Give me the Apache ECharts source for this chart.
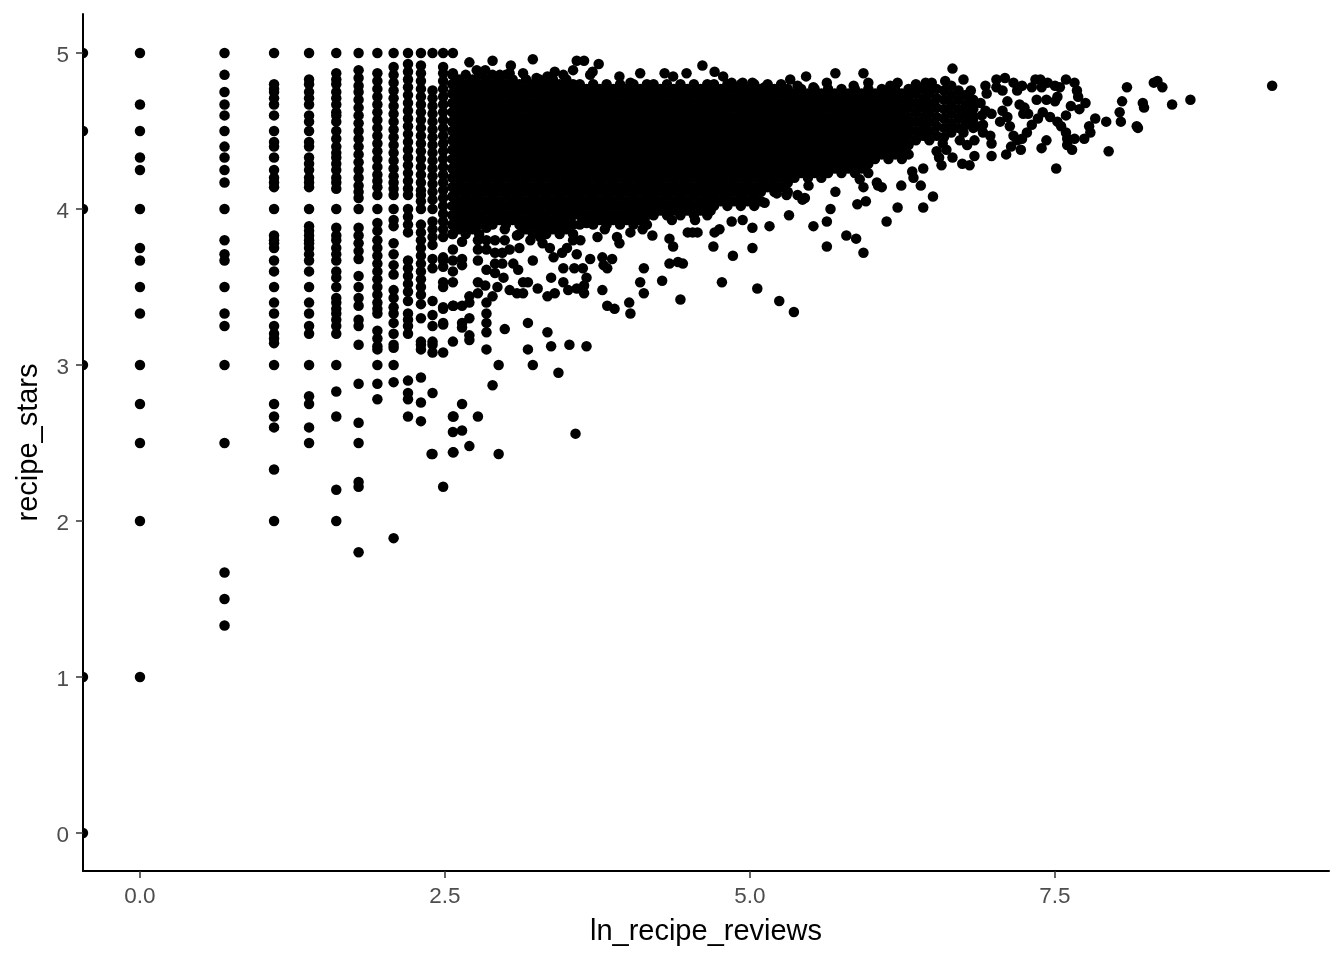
<!DOCTYPE html>
<html><head><meta charset="utf-8">
<script src="https://cdn.jsdelivr.net/npm/echarts@6/dist/echarts.min.js"></script>
<style>html,body{margin:0;padding:0;background:#fff}#c{width:1344px;height:960px}</style>
</head><body><div id="c"></div>
<script>
const xTickValues = [0, 2.5, 5, 7.5];
const yTickValues = [0, 1, 2, 3, 4, 5];
const xAxisTitle = 'ln_recipe_reviews';
const yAxisTitle = 'recipe_stars';

// points on the left edge of the panel, cut in half by it
const edgeX = -0.467;
const edgeStars = [5,4.5,4,3,1,0];

// discrete review counts: ln(x) with the star ratings read in that column
const columnX = [0, 0.693, 1.099, 1.386, 1.609, 1.792, 1.946, 2.079, 2.197, 2.303, 2.398, 2.485, 2.565];
const columnStars = [
 [5,4.67,4.5,4.33,4.25,4,3.75,3.67,3.5,3.33,3,2.75,2.5,2,1],
 [5,4.86,4.75,4.67,4.6,4.5,4.4,4.33,4.25,4.17,4,3.8,3.71,3.67,3.5,3.33,3.25,3,2.5,1.67,1.5,1.33],
 [5,4.8,4.77,4.75,4.71,4.67,4.6,4.5,4.43,4.4,4.33,4.25,4.2,4.17,4.14,4,3.83,3.8,3.78,3.75,3.67,3.6,3.5,3.4,3.33,3.25,3.2,3.17,3.14,3,2.75,2.67,2.6,2.33,2],
 [5,4.83,4.8,4.75,4.71,4.67,4.6,4.56,4.5,4.43,4.4,4.33,4.29,4.25,4.2,4.17,4.14,4,3.89,3.86,3.83,3.8,3.78,3.75,3.71,3.67,3.6,3.5,3.4,3.33,3.25,3.2,3,2.8,2.75,2.6,2.5],
 [5,4.87,4.83,4.8,4.75,4.71,4.67,4.62,4.6,4.56,4.5,4.45,4.4,4.36,4.33,4.29,4.25,4.2,4.17,4.13,4,3.88,3.83,3.8,3.75,3.71,3.67,3.6,3.56,3.5,3.43,3.4,3.36,3.33,3.29,3.25,3.2,3,2.83,2.67,2.2,2],
 [5,4.89,4.84,4.79,4.75,4.7,4.65,4.6,4.55,4.5,4.45,4.4,4.35,4.3,4.25,4.2,4.15,4.11,4.07,4,3.88,3.83,3.78,3.73,3.68,3.57,3.5,3.43,3.38,3.29,3.25,3.13,2.88,2.63,2.5,2.25,2.22,1.8],
 [5,4.87,4.82,4.77,4.72,4.67,4.62,4.57,4.52,4.47,4.42,4.37,4.32,4.27,4.22,4.18,4.14,4.09,4,3.91,3.86,3.8,3.75,3.7,3.65,3.6,3.55,3.5,3.45,3.4,3.36,3.33,3.22,3.17,3.12,3.1,3,2.88,2.78],
 [5,4.91,4.86,4.81,4.76,4.71,4.66,4.61,4.56,4.51,4.46,4.41,4.36,4.31,4.26,4.21,4.17,4.13,4.09,4,3.93,3.89,3.78,3.71,3.64,3.58,3.48,3.43,3.37,3.33,3.27,3.2,3.13,3.11,3,2.89,1.89],
 [5,4.93,4.88,4.83,4.78,4.73,4.68,4.63,4.58,4.53,4.48,4.43,4.38,4.33,4.28,4.23,4.18,4.13,4.09,4,3.95,3.9,3.85,3.67,3.62,3.57,3.52,3.47,3.41,3.33,3.29,3.25,3.2,2.9,2.82,2.78,2.67],
 [5,4.92,4.87,4.82,4.77,4.72,4.67,4.62,4.57,4.52,4.47,4.42,4.37,4.32,4.27,4.22,4.17,4.12,4.09,4.05,4,3.9,3.85,3.8,3.75,3.7,3.65,3.6,3.55,3.5,3.45,3.39,3.3,3.15,3.13,3.1,2.92,2.76,2.64],
 [5,4.76,4.71,4.66,4.61,4.56,4.51,4.46,4.41,4.36,4.31,4.26,4.21,4.16,4.11,4.06,4,3.92,3.87,3.82,3.77,3.68,3.62,3.41,3.32,3.25,3.15,3.13,3.08,2.82,2.43],
 [5,4.91,4.87,4.82,4.77,4.72,4.67,4.62,4.57,4.52,4.47,4.42,4.37,4.32,4.27,4.22,4.17,4.12,4.07,4.02,3.97,3.92,3.87,3.82,3.69,3.67,3.63,3.53,3.5,3.37,3.36,3.27,3.26,3.08,2.22],
 [5,4.87,4.8,4.74,4.68,4.62,4.56,4.5,4.44,4.38,4.32,4.26,4.2,4.14,4.08,4.02,3.96,3.9,3.84,3.74,3.67,3.6,3.53,3.38,3.15,2.67,2.57,2.44]
];

// the solid mass: groups of review values and the ratings read as filled at them
const massX = [
 [2.56,2.67,2.78],[2.615,2.725],[2.89,3.0],[2.835,2.945,3.055],
 [3.11,3.22,3.33,3.44,3.55],[3.165,3.275,3.385,3.495],
 [3.605,3.715,3.825,3.935,4.045,4.155],[3.66,3.77,3.88,3.99,4.1],
 [4.21,4.32,4.43,4.54,4.65],[4.265,4.375,4.485,4.595],
 [4.705,4.815,4.925,5.035],[4.76,4.87,4.98,5.09],
 [5.145,5.255],[5.2,5.31],[5.365,5.475,5.585],[5.42,5.53,5.64],
 [5.695,5.805,5.915],[5.75,5.86,5.97],[6.025,6.135,6.245],[6.08,6.19,6.3],
 [6.36,6.47],[6.42,6.53],[3.578,4.183,4.678],
 [6.59],[6.65],[6.71],[6.77],[6.83]
];
const massStars = [
 [4.86,4.8,4.74,4.68,4.62,4.56,4.5,4.44,4.38,4.32,4.26,4.2,4.14,4.08,4.02,3.96,3.9,3.84],
 [4.83,4.77,4.71,4.65,4.59,4.53,4.47,4.41,4.35,4.29,4.23,4.17,4.11,4.05,3.99,3.93,3.87],
 [4.86,4.8,4.74,4.68,4.62,4.56,4.5,4.44,4.38,4.32,4.26,4.2,4.14,4.08,4.02,3.96,3.9],
 [4.83,4.77,4.71,4.65,4.59,4.53,4.47,4.41,4.35,4.29,4.23,4.17,4.11,4.05,3.99,3.93],
 [4.8,4.74,4.68,4.62,4.56,4.5,4.44,4.38,4.32,4.26,4.2,4.14,4.08,4.02,3.96,3.9,3.84],
 [4.83,4.77,4.71,4.65,4.59,4.53,4.47,4.41,4.35,4.29,4.23,4.17,4.11,4.05,3.99,3.93,3.87],
 [4.8,4.74,4.68,4.62,4.56,4.5,4.44,4.38,4.32,4.26,4.2,4.14,4.08,4.02,3.96,3.9],
 [4.77,4.71,4.65,4.59,4.53,4.47,4.41,4.35,4.29,4.23,4.17,4.11,4.05,3.99,3.93],
 [4.8,4.74,4.68,4.62,4.56,4.5,4.44,4.38,4.32,4.26,4.2,4.14,4.08,4.02,3.96],
 [4.77,4.71,4.65,4.59,4.53,4.47,4.41,4.35,4.29,4.23,4.17,4.11,4.05,3.99],
 [4.8,4.74,4.68,4.62,4.56,4.5,4.44,4.38,4.32,4.26,4.2,4.14,4.08,4.02],
 [4.77,4.71,4.65,4.59,4.53,4.47,4.41,4.35,4.29,4.23,4.17,4.11,4.05],
 [4.8,4.74,4.68,4.62,4.56,4.5,4.44,4.38,4.32,4.26,4.2,4.14],
 [4.77,4.71,4.65,4.59,4.53,4.47,4.41,4.35,4.29,4.23,4.17,4.11],
 [4.74,4.68,4.62,4.56,4.5,4.44,4.38,4.32,4.26,4.2],
 [4.77,4.71,4.65,4.59,4.53,4.47,4.41,4.35,4.29,4.23],
 [4.74,4.68,4.62,4.56,4.5,4.44,4.38,4.32,4.26],
 [4.77,4.71,4.65,4.59,4.53,4.47,4.41,4.35,4.29,4.23],
 [4.74,4.68,4.62,4.56,4.5,4.44,4.38,4.32],
 [4.77,4.71,4.65,4.59,4.53,4.47,4.41,4.35],
 [4.8,4.74,4.68,4.62,4.56,4.5,4.44],
 [4.77,4.71,4.65,4.59,4.53,4.47],
 [4.77,4.71,4.65,4.59,4.53,4.47,4.41,4.35,4.29,4.23,4.17,4.11,4.05,3.99],
 [4.76,4.7,4.64,4.58,4.52,4.46],
 [4.79,4.73,4.67,4.61,4.55,4.49],
 [4.76,4.7,4.64,4.58,4.52],
 [4.73,4.67,4.61,4.54],
 [4.7,4.64,4.58,4.52]
];

// individually read points around the mass
const looseX = [9.28,8.61,8.46,8.34,8.31,8.38,8.09,8.05,8.22,8.23,8.03,8.04,7.92,7.83,8.17,8.18,7.94,7.51,7.75,7.70,7.63,7.59,7.59,7.66,7.68,7.69,7.34,7.31,7.38,7.44,7.50,7.54,7.52,7.50,7.43,7.35,7.39,7.23,7.19,7.16,7.09,7.02,7.02,7.07,6.93,7.11,7.21,7.25,7.24,7.28,7.40,7.36,7.31,7.46,7.52,7.55,7.59,7.60,7.66,7.74,7.79,7.78,7.60,7.64,7.43,7.39,7.22,7.14,7.10,6.98,6.84,6.80,6.74,6.66,6.57,6.55,6.53,6.61,6.58,6.98,6.97,6.91,7.13,7.27,7.23,7.19,7.16,7.05,7.11,7.07,6.98,6.81,6.75,6.66,6.60,6.49,6.44,6.93,6.90,6.83,6.89,6.82,6.78,6.75,6.72,6.78,6.84,6.91,6.86,6.94,
 6.42,6.33,6.34,6.40,6.24,6.50,6.42,6.21,6.12,6.04,6.08,6.05,5.95,5.88,5.93,5.90,5.70,5.66,5.63,5.52,5.79,5.87,5.63,5.93,5.43,5.48,
 5.36,5.24,5.06,4.77,4.43,5.02,4.86,4.70,4.45,4.41,4.34,4.37,4.34,4.28,4.13,4.10,4.13,4.01,4.02,3.89,3.83,3.79,3.87,3.79,3.80,3.83,3.69,3.66,3.64,3.64,3.58,3.51,3.47,3.63,3.56,3.47,3.37,3.40,3.34,3.26,3.14,3.18,3.14,3.09,3.03,2.93,2.89,2.83,2.77,2.77,2.70,2.70,2.64,2.57,2.84,2.84,2.84,2.84,2.70,2.64,2.64,2.70,2.70,2.84,2.99,3.18,3.34,3.18,3.37,3.52,3.66,
 2.94,3.22,3.43,2.89,2.64,2.57,2.77,2.64,2.70,2.57,2.39,2.94,3.57,
 3.22,2.89,2.70,3.04,3.58,3.64,3.76,4.61,4.48,4.30,4.37,4.10,3.93,4.02,5.46,5.33,5.70,5.63,3.40,3.14,2.83,2.76,2.95,3.03,3.25,3.34,3.47,3.55,3.71,3.69,4.71,4.78,4.85,4.94,5.02,5.12,5.16,5.25,5.39,5.52,
 2.64,2.64,2.64,2.77,2.77,2.77,2.84,2.84,2.84,2.84,2.91,2.91,2.91,2.91,2.99,2.99,2.97,2.97,2.98,3.09,3.03,3.11,3.20,3.28,3.30,3.06,3.10,3.22,3.36,3.39,3.46,3.50,3.58,3.55,3.61,3.75,3.66,3.81,3.91,3.93,4.02,4.12,4.20,4.36,4.49,4.53,4.57,4.55,4.71,4.75,4.85,4.94,5.02,5.16,5.32,5.12,5.22,5.30,5.39,5.45,
 5.93,5.97,5.85,6.15,6.21,6.34];
const looseStars = [4.79,4.70,4.67,4.82,4.81,4.78,4.78,4.69,4.68,4.65,4.62,4.56,4.56,4.58,4.53,4.52,4.37,4.26,4.68,4.64,4.66,4.60,4.83,4.81,4.76,4.72,4.83,4.78,4.83,4.81,4.79,4.78,4.72,4.69,4.70,4.70,4.78,4.79,4.76,4.81,4.84,4.83,4.78,4.76,4.79,4.69,4.67,4.65,4.61,4.61,4.62,4.58,4.54,4.59,4.56,4.53,4.49,4.45,4.45,4.45,4.49,4.53,4.41,4.38,4.44,4.39,4.38,4.40,4.35,4.34,4.34,4.28,4.29,4.33,4.28,4.33,4.37,4.38,4.42,4.42,4.47,4.49,4.53,4.49,4.45,4.44,4.47,4.56,4.59,4.63,4.61,4.76,4.83,4.90,4.82,4.81,4.81,4.63,4.60,4.68,4.68,4.61,4.56,4.49,4.44,4.41,4.44,4.54,4.53,4.74,
 4.26,4.24,4.20,4.15,4.15,4.08,4.01,4.01,3.92,4.17,4.14,4.15,4.05,4.03,4.14,4.19,4.11,4.00,3.92,3.89,3.83,3.81,3.76,3.72,4.06,4.15,
 3.34,3.41,3.49,3.53,3.42,3.75,3.70,3.76,3.65,3.66,3.65,3.76,3.81,3.54,3.62,3.53,3.46,3.40,3.33,3.36,3.38,3.48,3.68,3.69,3.64,3.62,3.68,3.56,3.51,3.46,3.49,3.48,3.53,3.62,3.62,3.62,3.56,3.46,3.44,3.49,3.53,3.53,3.46,3.46,3.48,3.50,3.44,3.51,3.53,3.46,3.44,3.40,3.38,3.38,3.40,3.33,3.27,3.21,3.30,3.27,3.24,3.19,3.16,3.10,3.23,3.27,3.21,3.10,3.12,3.13,3.12,
 3.00,3.00,2.95,2.87,2.75,2.67,2.67,2.58,2.48,2.44,2.43,2.43,2.56,
 4.96,4.95,4.94,4.92,4.95,4.95,4.93,4.92,4.87,4.87,4.85,4.87,4.85,4.81,4.85,4.83,4.87,4.81,4.88,4.87,4.89,4.89,4.86,4.87,4.84,4.85,4.86,4.89,4.88,4.86,4.88,4.85,4.81,4.81,4.81,4.78,4.75,4.78,4.79,4.78,
 3.79,3.68,3.64,3.80,3.74,3.67,3.88,3.80,3.74,3.61,3.80,3.72,3.65,3.59,3.87,3.80,3.72,3.65,3.56,3.83,3.74,3.75,3.80,3.82,3.78,3.65,3.61,3.67,3.75,3.69,3.72,3.75,3.71,3.80,3.80,3.82,3.91,3.87,3.82,3.78,3.85,3.87,3.83,3.93,3.85,3.85,3.85,3.93,3.85,3.87,3.92,3.93,3.88,3.89,3.96,4.04,4.10,4.09,4.09,4.07,
 4.87,4.81,4.79,4.79,4.81,4.75];

const points = [];
columnX.forEach((x, i) => columnStars[i].forEach(y => points.push([x, y])));
massX.forEach((group, i) => group.forEach(x => massStars[i].forEach(y => points.push([x, y]))));
looseX.forEach((x, i) => points.push([x, looseStars[i]]));
const edgePoints = edgeStars.map(y => [edgeX, y]);

const chart = echarts.init(document.getElementById('c'), null, {renderer: 'canvas'});
const font = '"Liberation Sans", Arial, sans-serif';
chart.setOption({
  animation: false,
  backgroundColor: '#fff',
  grid: {left: 83, right: 15, top: 14, bottom: 89, containLabel: false},
  xAxis: {
    type: 'value', min: -0.467, max: 9.746, name: xAxisTitle, nameLocation: 'middle', nameGap: 46,
    nameTextStyle: {fontFamily: font, fontSize: 29, color: '#000'},
    splitLine: {show: false},
    axisLine: {show: true, onZero: false, lineStyle: {color: '#000', width: 2}},
    axisTick: {show: true, length: 7, customValues: xTickValues, lineStyle: {color: '#333', width: 1.5}},
    axisLabel: {customValues: xTickValues, formatter: v => v.toFixed(1), margin: 14, fontFamily: font, fontSize: 22.5, color: '#4d4d4d'}
  },
  yAxis: {
    type: 'value', min: -0.2436, max: 5.25, name: yAxisTitle, nameLocation: 'middle', nameGap: 40,
    nameTextStyle: {fontFamily: font, fontSize: 29, color: '#000'},
    splitLine: {show: false},
    axisLine: {show: true, onZero: false, lineStyle: {color: '#000', width: 2}},
    axisTick: {show: true, length: 7, customValues: yTickValues, lineStyle: {color: '#333', width: 1.5}},
    axisLabel: {customValues: yTickValues, formatter: v => '{t|' + v + '}', margin: 14,
      rich: {t: {padding: [6, 0, 0, 0], fontFamily: font, fontSize: 22.5, color: '#4d4d4d'}}}
  },
  series: [
    {type: 'scatter', data: points, symbol: 'circle', symbolSize: 10.5, itemStyle: {color: '#000', opacity: 1}, silent: true, progressive: 0},
    {type: 'scatter', data: edgePoints, symbol: 'path://M0,0 A5,5 0 0 1 0,10 Z', symbolSize: [5.25, 10.5], symbolOffset: [2.6, 0], clip: false, itemStyle: {color: '#000', opacity: 1}, silent: true}
  ]
});
</script></body></html>
